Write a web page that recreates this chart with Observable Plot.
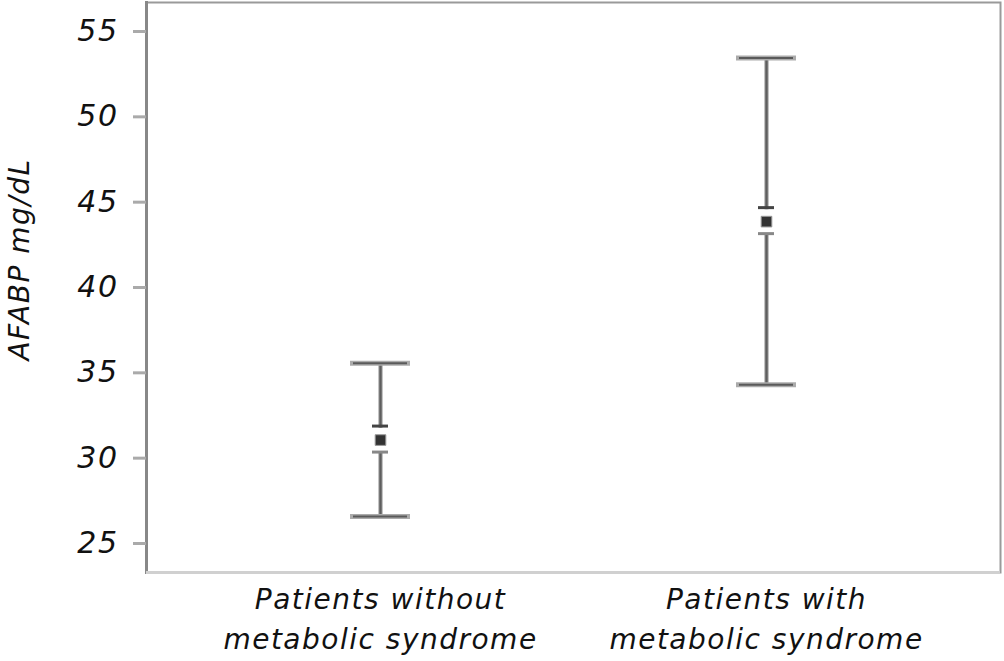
<!DOCTYPE html>
<html>
<head>
<meta charset="utf-8">
<script src="https://cdn.jsdelivr.net/npm/d3@7"></script>
<script src="https://cdn.jsdelivr.net/npm/@observablehq/plot@0.6"></script>
<style>
  html, body { margin: 0; padding: 0; background: #fff; }
  #chart svg { display: block; }
</style>
</head>
<body>
<div id="chart"></div>
<script>
const groups = ["Patients without\nmetabolic syndrome", "Patients with\nmetabolic syndrome"];
const means = [31.06, 43.86];
const ciLow = [26.58, 34.3];
const ciHigh = [35.56, 53.45];
const yTicks = [25, 30, 35, 40, 45, 50, 55];
const yDomain = [23.3, 56.7];
const yLabel = "AFABP mg/dL";

const data = groups.map((g, i) => ({group: g, mean: means[i], low: ciLow[i], high: ciHigh[i]}));
const font = "'DejaVu Sans', sans-serif";

const chart = Plot.plot({
  width: 1004,
  height: 661,
  marginTop: 2,
  marginLeft: 146,
  marginRight: 4,
  marginBottom: 89,
  style: {fontFamily: font, background: "#fff", letterSpacing: "1.5px"},
  x: {type: "band", domain: groups, paddingInner: 0.845, paddingOuter: 0.526},
  y: {domain: yDomain},
  marks: [
    Plot.frame({stroke: "#9a9a9a", strokeWidth: 2}),
    Plot.frame({anchor: "left", stroke: "#888", strokeWidth: 3}),
    Plot.ruleY([yDomain[0]], {stroke: "#d0d0d0", strokeWidth: 3}),
    Plot.axisY({
      ticks: yTicks, tickSize: 13, tickPadding: 15, stroke: "#aaa", strokeWidth: 3,
      fontSize: 30, fontStyle: "italic", fill: "#111", label: null
    }),
    Plot.text([yLabel], {
      frameAnchor: "left", textAnchor: "middle", dx: -118, dy: -28, rotate: -90,
      fontSize: 28, fontStyle: "italic", fill: "#111", lineAnchor: "bottom"
    }),
    Plot.axisX({
      tickSize: 0, tickPadding: 7, fontSize: 28, fontStyle: "italic", fill: "#111",
      lineHeight: 1.46, label: null
    }),
    Plot.ruleX(data, {x: "group", y1: "low", y2: "high", stroke: "#c4c4c4", strokeWidth: 5}),
    Plot.ruleX(data, {x: "group", y1: "low", y2: "high", stroke: "#5e5e5e", strokeWidth: 2.5}),
    Plot.tickY(data, {x: "group", y: "high", stroke: "#ababab", strokeWidth: 5}),
    Plot.tickY(data, {x: "group", y: "low", stroke: "#ababab", strokeWidth: 5}),
    Plot.tickY(data, {x: "group", y: "high", stroke: "#5a5a5a", strokeWidth: 2, insetLeft: 3, insetRight: 3}),
    Plot.tickY(data, {x: "group", y: "low", stroke: "#5a5a5a", strokeWidth: 2, insetLeft: 3, insetRight: 3}),
    Plot.dot(data, {x: "group", y: "mean", symbol: "square", r: 14, fill: "#fff", stroke: "none"}),
    Plot.tickY(data, {x: "group", y: "mean", dy: -14, stroke: "#444", strokeWidth: 3, insetLeft: 22, insetRight: 22}),
    Plot.tickY(data, {x: "group", y: "mean", dy: 12, stroke: "#888", strokeWidth: 3, insetLeft: 22, insetRight: 22}),
    Plot.dot(data, {x: "group", y: "mean", symbol: "square", r: 6, fill: "#333", stroke: "#999", strokeWidth: 1})
  ]
});
document.getElementById("chart").append(chart);
</script>
</body>
</html>
